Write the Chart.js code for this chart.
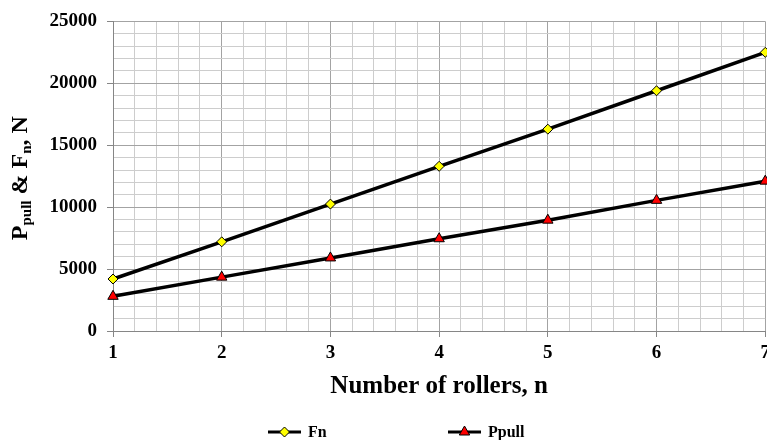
<!DOCTYPE html>
<html>
<head>
<meta charset="utf-8">
<script src="https://cdn.jsdelivr.net/npm/chart.js@4/dist/chart.umd.min.js"></script>
<style>
  html, body { margin: 0; padding: 0; background: #ffffff; overflow: hidden; }
  #wrap { position: absolute; left: 0; top: 0; width: 775px; height: 440px; }
</style>
</head>
<body>
<div id="wrap"><canvas id="chart" width="775" height="440"></canvas></div>
<script>
// Number of rollers
const rollers = [1, 2, 3, 4, 5, 6, 7];
// Normal force Fn, N
const fnValues = [4200, 7200, 10250, 13300, 16300, 19400, 22500];
// Pulling force Ppull, N
const ppullValues = [2800, 4350, 5900, 7450, 8950, 10550, 12100];
// Series names
const seriesNames = ['Fn', 'Ppull'];
// Axis titles
const xTitle = 'Number of rollers, n';
const yTitleParts = [
  { t: 'P', sub: false },
  { t: 'pull', sub: true },
  { t: ' & F', sub: false },
  { t: 'n', sub: true },
  { t: ', N', sub: false }
];

const FONT = '"Liberation Serif", "Times New Roman", serif';
const GRID_MAJOR = '#a3a3a3';
const GRID_MINOR = '#cdcdcd';
const AXIS = '#868686';

const near = (v, m) => Math.abs(v / m - Math.round(v / m)) < 1e-6;

function marker(ctx, style, x, y, r, fill) {
  ctx.save();
  ctx.fillStyle = fill;
  ctx.strokeStyle = '#000000';
  ctx.lineWidth = 1;
  ctx.beginPath();
  if (style === 'rectRot') {
    ctx.moveTo(x, y - r); ctx.lineTo(x + r, y); ctx.lineTo(x, y + r); ctx.lineTo(x - r, y);
  } else {
    const h = Math.sqrt(3) / 2 * r;
    ctx.moveTo(x, y - r); ctx.lineTo(x + h, y + r / 2); ctx.lineTo(x - h, y + r / 2);
  }
  ctx.closePath();
  ctx.fill();
  ctx.stroke();
  ctx.restore();
}

// Rotated y-axis title with subscripts, plus the bottom legend
const decorations = {
  id: 'decorations',
  afterDraw(chart) {
    const ctx = chart.ctx;
    const area = chart.chartArea;
    // y title
    const big = 'bold 24px ' + FONT, small = 'bold 15px ' + FONT;
    ctx.save();
    let total = 0;
    yTitleParts.forEach(p => { ctx.font = p.sub ? small : big; total += ctx.measureText(p.t).width; });
    ctx.translate(27, (area.top + area.bottom) / 2 + 2);
    ctx.rotate(-Math.PI / 2);
    ctx.fillStyle = '#000000';
    ctx.textBaseline = 'alphabetic';
    let x = -total / 2;
    yTitleParts.forEach(p => {
      ctx.font = p.sub ? small : big;
      ctx.fillText(p.t, x, p.sub ? 4 : 0);
      x += ctx.measureText(p.t).width;
    });
    ctx.restore();

    // legend
    const starts = [268, 448];
    const ly = 432;
    chart.data.datasets.forEach((ds, i) => {
      const x0 = starts[i];
      ctx.save();
      ctx.strokeStyle = ds.borderColor;
      ctx.lineWidth = 3;
      ctx.beginPath();
      ctx.moveTo(x0, ly); ctx.lineTo(x0 + 33, ly);
      ctx.stroke();
      marker(ctx, ds.pointStyle, x0 + 16.5, ly, ds.pointRadius, ds.pointBackgroundColor);
      ctx.fillStyle = '#000000';
      ctx.font = 'bold 16px ' + FONT;
      ctx.textBaseline = 'middle';
      ctx.fillText(ds.label, x0 + 40, ly + 1);
      ctx.restore();
    });
  }
};

new Chart(document.getElementById('chart'), {
  type: 'line',
  data: {
    datasets: [
      {
        label: seriesNames[0],
        data: rollers.map((n, i) => ({ x: n, y: fnValues[i] })),
        borderColor: '#000000',
        borderWidth: 3.5,
        pointStyle: 'rectRot',
        pointRadius: 5,
        pointBackgroundColor: '#ffff00',
        pointBorderColor: '#000000',
        pointBorderWidth: 1,
        tension: 0,
        clip: false
      },
      {
        label: seriesNames[1],
        data: rollers.map((n, i) => ({ x: n, y: ppullValues[i] })),
        borderColor: '#000000',
        borderWidth: 3.5,
        pointStyle: 'triangle',
        pointRadius: 6,
        pointBackgroundColor: '#ff0000',
        pointBorderColor: '#000000',
        pointBorderWidth: 1,
        tension: 0,
        clip: false
      }
    ]
  },
  options: {
    responsive: false,
    animation: false,
    layout: { padding: { top: 19, bottom: 35, left: 0, right: 0 } },
    plugins: { legend: { display: false }, tooltip: { enabled: false } },
    scales: {
      x: {
        type: 'linear',
        min: 1,
        max: 7,
        afterFit: s => { s.height = 74; },
        ticks: {
          stepSize: 0.2,
          autoSkip: false,
          maxRotation: 0,
          padding: 5,
          color: '#000000',
          font: { family: FONT, size: 19, weight: 'bold' },
          callback: v => near(v, 1) ? String(Math.round(v)) : ''
        },
        grid: {
          color: c => near(c.tick.value, 1) ? GRID_MAJOR : GRID_MINOR,
          tickColor: c => near(c.tick.value, 1) ? AXIS : 'rgba(0,0,0,0)',
          tickLength: 6,
          lineWidth: 1
        },
        border: { color: AXIS, width: 1 },
        title: {
          display: true,
          text: xTitle,
          color: '#000000',
          font: { family: FONT, size: 25, weight: 'bold' },
          padding: { top: 0, bottom: 3 }
        }
      },
      y: {
        min: 0,
        max: 25000,
        afterFit: s => { s.width = 113; },
        ticks: {
          stepSize: 1000,
          autoSkip: false,
          padding: 10,
          color: '#000000',
          font: { family: FONT, size: 19, weight: 'bold' },
          callback: v => near(v, 5000) ? String(v) : ''
        },
        grid: {
          color: c => near(c.tick.value, 5000) ? GRID_MAJOR : GRID_MINOR,
          tickColor: c => near(c.tick.value, 5000) ? AXIS : 'rgba(0,0,0,0)',
          tickLength: 6,
          lineWidth: 1
        },
        border: { color: AXIS, width: 1 }
      }
    }
  },
  plugins: [decorations]
});
</script>
</body>
</html>
